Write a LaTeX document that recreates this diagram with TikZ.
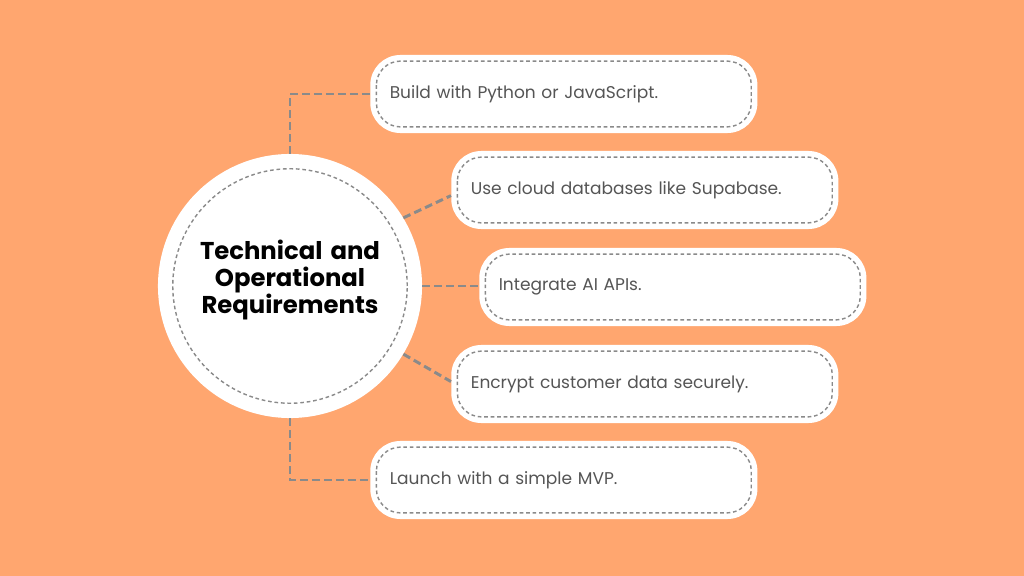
\documentclass[tikz,border=0pt]{standalone}
\usepackage{fontspec}
\setmainfont{Poppins}
\usepackage{xcolor}
\usepackage{tikz}
\usetikzlibrary{shapes.geometric, positioning}
\definecolor{bgorange}{HTML}{FFA66F}
\definecolor{dashgray}{HTML}{8A8A8A}
\definecolor{txtgray}{HTML}{555555}
\tikzstyle{hub} = [circle, minimum size=6.6cm, fill=white]
\tikzstyle{title} = [text width=5.5cm, align=center, font=\fontsize{17.3}{19.2}\selectfont\bfseries, text=black]
\tikzstyle{req} = [rectangle, rounded corners=0.75cm, minimum width=9.675cm, minimum height=1.95cm, text width=8.7cm, inner xsep=0.48cm, align=left, fill=white, text=txtgray, font=\fontsize{12.1}{15}\selectfont, anchor=west]
\tikzstyle{link} = [draw=dashgray, line width=2.1pt, dash pattern=on 5.5pt off 3pt]
\tikzstyle{inner} = [draw=dashgray, line width=1pt, dash pattern=on 2.6pt off 2pt]

\begin{document}
\begin{tikzpicture}[x=0.025cm, y=-0.025cm]
    \fill [bgorange] (0,0) rectangle (1024,576);
    % Nodes
    \node [hub] (hub) at (290,286) {};
    \node [title] (title) at (290,280) {Technical and\\Operational\\Requirements};
    \node [req] (build) at (370,94) {Build with Python or JavaScript.};
    \node [req] (cloud) at (451,190) {Use cloud databases like Supabase.};
    \node [req] (ai) at (479,287) {Integrate AI APIs.};
    \node [req] (encrypt) at (451,384) {Encrypt customer data securely.};
    \node [req] (launch) at (370,480) {Launch with a simple MVP.};

    % inner dashed outlines
    \draw [inner] (hub.center) circle (2.93cm);
    \foreach \b in {build, cloud, ai, encrypt, launch}
        \draw [inner, rounded corners=0.6cm] ([shift={(0.16cm,-0.16cm)}]\b.north west) rectangle ([shift={(-0.16cm,0.16cm)}]\b.south east);

    % Edges
    \path [link] (hub.north) |- (build.west);
    \path [link] (hub.31) -- ([yshift=-0.14cm]cloud.west);
    \path [link] (hub.east) -- (hub.east -| ai.west);
    \path [link] (hub.-31) -- ([yshift=0.06cm]encrypt.west);
    \path [link] (hub.south) |- (launch.west);
\end{tikzpicture}
\end{document}
